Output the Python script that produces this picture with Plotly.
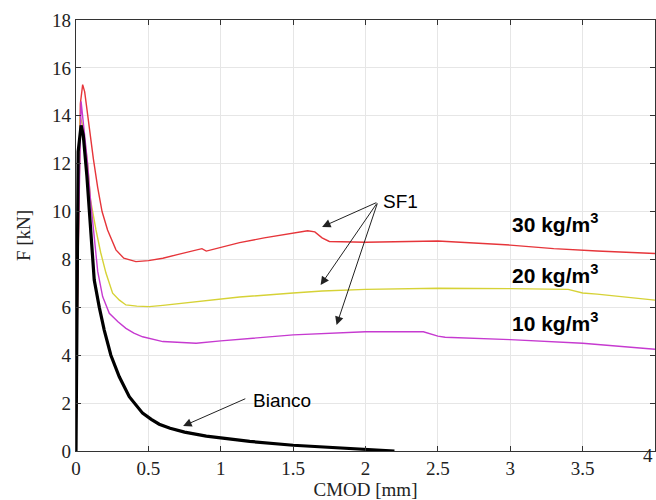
import plotly.graph_objects as go

# --- Data ---
x_bianco = [0, 0.005, 0.015, 0.035, 0.05, 0.075, 0.103, 0.126, 0.161, 0.195, 0.241, 0.299,
            0.368, 0.46, 0.52, 0.575, 0.65, 0.75, 0.9, 1.0, 1.2, 1.5, 1.8, 2.0, 2.2]
y_bianco = [0, 5.0, 12.5, 13.6, 13.2, 11.5, 9.23, 7.14, 6.0, 5.05, 4.0, 3.1,
            2.27, 1.58, 1.32, 1.12, 0.95, 0.79, 0.62, 0.54, 0.4, 0.24, 0.13, 0.06, 0.0]

x_30 = [0, 0.01, 0.03, 0.046, 0.06, 0.08, 0.1, 0.12, 0.15, 0.18, 0.218, 0.25, 0.276, 0.33,
        0.414, 0.5, 0.6, 0.7, 0.83, 0.87, 0.9, 1.0, 1.13, 1.3, 1.5, 1.6, 1.65, 1.7, 1.75,
        2.0, 2.5, 3.0, 3.3, 3.6, 4.0]
y_30 = [0, 6.0, 14.5, 15.3, 15.0, 14.0, 13.0, 12.2, 11.0, 10.0, 9.23, 8.75, 8.4, 8.05,
        7.91, 7.95, 8.05, 8.2, 8.4, 8.45, 8.35, 8.5, 8.7, 8.9, 9.1, 9.2, 9.15, 8.9, 8.75,
        8.72, 8.77, 8.6, 8.45, 8.35, 8.25]

x_20 = [0, 0.01, 0.03, 0.05, 0.08, 0.1, 0.138, 0.17, 0.207, 0.253, 0.3, 0.345, 0.42, 0.506,
        0.6, 0.83, 1.0, 1.13, 1.5, 1.7, 2.0, 2.5, 3.0, 3.4, 3.5, 3.6, 4.0]
y_20 = [0, 7.0, 13.95, 13.5, 12.0, 10.5, 9.23, 8.3, 7.43, 6.59, 6.3, 6.1, 6.05, 6.03,
        6.08, 6.24, 6.35, 6.43, 6.6, 6.68, 6.75, 6.8, 6.78, 6.75, 6.6, 6.55, 6.3]

x_10 = [0, 0.01, 0.035, 0.05, 0.08, 0.1, 0.13, 0.15, 0.184, 0.23, 0.29, 0.345, 0.4, 0.46,
        0.6, 0.83, 1.0, 1.5, 2.0, 2.4, 2.5, 2.55, 3.0, 3.5, 4.0]
y_10 = [0, 7.0, 14.6, 13.8, 12.0, 10.5, 8.6, 7.5, 6.45, 5.75, 5.4, 5.12, 4.92, 4.77,
        4.57, 4.5, 4.6, 4.85, 4.98, 4.98, 4.8, 4.75, 4.65, 4.5, 4.25]

x_ticks = [0, 0.5, 1, 1.5, 2, 2.5, 3, 3.5, 4]
x_tick_text = ["0", "0.5", "1", "1.5", "2", "2.5", "3", "3.5", "4"]
y_ticks = [0, 2, 4, 6, 8, 10, 12, 14, 16, 18]

fig = go.Figure()
fig.add_trace(go.Scatter(x=x_30, y=y_30, mode="lines", line=dict(color="#e6353a", width=1.4),
                         showlegend=False))
fig.add_trace(go.Scatter(x=x_20, y=y_20, mode="lines", line=dict(color="#d6d236", width=1.4),
                         showlegend=False))
fig.add_trace(go.Scatter(x=x_10, y=y_10, mode="lines", line=dict(color="#c63ad0", width=1.4),
                         showlegend=False))
fig.add_trace(go.Scatter(x=x_bianco, y=y_bianco, mode="lines", line=dict(color="black", width=3.2),
                         showlegend=False))

lab_font = dict(family="Liberation Sans", size=21, color="black")
for txt, yy in [("<b>30 kg/m<sup>3</sup></b>", 9.52), ("<b>20 kg/m<sup>3</sup></b>", 7.39),
                ("<b>10 kg/m<sup>3</sup></b>", 5.39)]:
    fig.add_annotation(x=3.31, y=yy, text=txt, showarrow=False, font=lab_font,
                       xref="x", yref="y")

ann_font = dict(family="Liberation Sans", size=19, color="black")
fig.add_annotation(x=2.24, y=10.44, text="SF1", showarrow=False, font=ann_font)
for tx, ty in [(1.70, 9.36), (1.69, 6.93), (1.80, 5.26)]:
    fig.add_annotation(x=tx, y=ty, ax=2.085, ay=10.40, axref="x", ayref="y", text="",
                       showarrow=True, arrowhead=2, arrowsize=1.7, arrowwidth=1,
                       arrowcolor="#222")
fig.add_annotation(x=1.42, y=2.13, text="Bianco", showarrow=False, font=ann_font)
fig.add_annotation(x=0.74, y=1.04, ax=1.18, ay=2.21, axref="x", ayref="y", text="",
                   showarrow=True, arrowhead=2, arrowsize=1.7, arrowwidth=1, arrowcolor="#222")

axis_font = dict(family="Liberation Serif", size=19, color="#222")
# last x tick label sits at the right edge of the figure
fig.add_annotation(x=4, xref="x", y=0, yref="paper", yshift=-17, text=x_tick_text[-1],
                   showarrow=False, xanchor="right", font=axis_font)

fig.update_layout(
    width=656, height=500,
    margin=dict(l=76, r=1, t=20, b=49),
    plot_bgcolor="white", paper_bgcolor="white",
    xaxis=dict(range=[0, 4], tickvals=x_ticks[:-1], ticktext=x_tick_text[:-1], ticks="inside",
               ticklen=5, tickcolor="#333", showline=True, linecolor="#333", linewidth=1.2,
               mirror="ticks", showgrid=True, gridcolor="#e6e6e6", gridwidth=1,
               zeroline=False, tickfont=axis_font,
               title=dict(text="CMOD [mm]", font=axis_font, standoff=2)),
    yaxis=dict(range=[0, 18], tickvals=y_ticks, ticks="inside", ticklen=5,
               tickcolor="#333", showline=True, linecolor="#333", linewidth=1.2, mirror="ticks",
               showgrid=True, gridcolor="#e6e6e6", gridwidth=1, zeroline=False,
               tickfont=axis_font,
               title=dict(text="F [kN]", font=axis_font, standoff=16)),
)

fig.write_html("out.html")
